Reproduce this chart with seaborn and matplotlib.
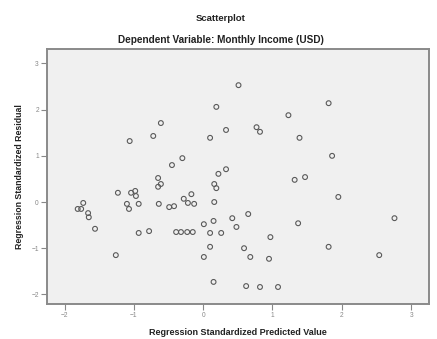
import matplotlib
matplotlib.use("Agg")
import matplotlib.pyplot as plt
import seaborn as sns
import pandas as pd

# values (standardized predicted value, standardized residual)
pred = [0.51, 0.19, 0.33, -0.61, -0.72, -1.06, 0.10, -0.30, -0.45, 0.33,
        0.22, -0.65, 0.16, 0.19, -0.65, -0.61, 1.81, 1.23, 0.77, 0.82,
        1.39, 1.86, 1.47, 1.32, 1.95, 2.76, 2.54, 1.81, -1.23, -1.04,
        -0.98, -0.97, -1.73, -1.81, -1.76, -1.66, -1.65, -1.56, -1.26, -1.10,
        -1.07, -0.93, -0.64, -0.49, -0.42, -0.17, -0.28, -0.22, -0.13, 0.16,
        0.01, 0.15, 0.42, 0.48, 0.65, -0.93, -0.78, -0.39, -0.32, -0.23,
        -0.15, 0.10, 0.26, 0.10, 0.01, 0.59, 0.68, 0.97, 0.95, 1.37,
        0.15, 0.62, 0.82, 1.08]
resid = [2.53, 2.06, 1.56, 1.71, 1.43, 1.32, 1.39, 0.95, 0.80, 0.71,
         0.61, 0.52, 0.39, 0.30, 0.33, 0.39, 2.14, 1.88, 1.62, 1.52,
         1.39, 1.00, 0.54, 0.48, 0.11, -0.35, -1.15, -0.97, 0.20, 0.20,
         0.24, 0.13, -0.02, -0.15, -0.15, -0.24, -0.33, -0.58, -1.15, -0.04,
         -0.15, -0.04, -0.04, -0.11, -0.09, 0.17, 0.07, -0.02, -0.04, 0.00,
         -0.48, -0.41, -0.35, -0.54, -0.26, -0.67, -0.63, -0.65, -0.65, -0.65,
         -0.65, -0.67, -0.67, -0.97, -1.19, -1.00, -1.19, -0.76, -1.23, -0.46,
         -1.73, -1.82, -1.84, -1.84]
x_ticks = [-2, -1, 0, 1, 2, 3]
y_ticks = [-2, -1, 0, 1, 2, 3]

df = pd.DataFrame({"pred": pred, "resid": resid})

sns.set_theme(style="white")
plt.rcParams["font.family"] = ["Liberation Sans", "DejaVu Sans"]

fig = plt.figure(figsize=(4.37, 3.39), dpi=100)
ax = fig.add_axes([0.108, 0.103, 0.874, 0.752])
ax.set_facecolor("#f0f0f0")

sns.scatterplot(data=df, x="pred", y="resid", ax=ax, marker="o", s=12,
                facecolor="none", edgecolor="#5a5a5a", linewidth=0.8)

ax.set_xlim(-2.25, 3.26)
ax.set_ylim(-2.21, 3.31)
ax.set_xticks(x_ticks)
ax.set_yticks(y_ticks)
ax.tick_params(axis="both", direction="out", length=4, width=0.8, color="#888888",
               labelsize=4.8, labelcolor="#888888", pad=2)
ax.tick_params(axis="both", which="both", bottom=True, left=True)
for sp in ax.spines.values():
    sp.set_color("#8a8a8a")
    sp.set_linewidth(1.4)

ax.set_xlabel("Regression Standardized Predicted Value", fontsize=6.5,
              fontweight="bold", color="#222222", labelpad=6)
ax.set_ylabel("Regression Standardized Residual", fontsize=6.3,
              fontweight="bold", color="#222222", labelpad=5)

fig.text(0.506, 0.944, "Scatterplot", ha="center", va="center",
         fontsize=6.8, fontweight="bold", color="#222222")
fig.text(0.506, 0.882, "Dependent Variable: Monthly Income (USD)", ha="center",
         va="center", fontsize=7.2, fontweight="bold", color="#222222")

fig.savefig("out.png", dpi=100)
